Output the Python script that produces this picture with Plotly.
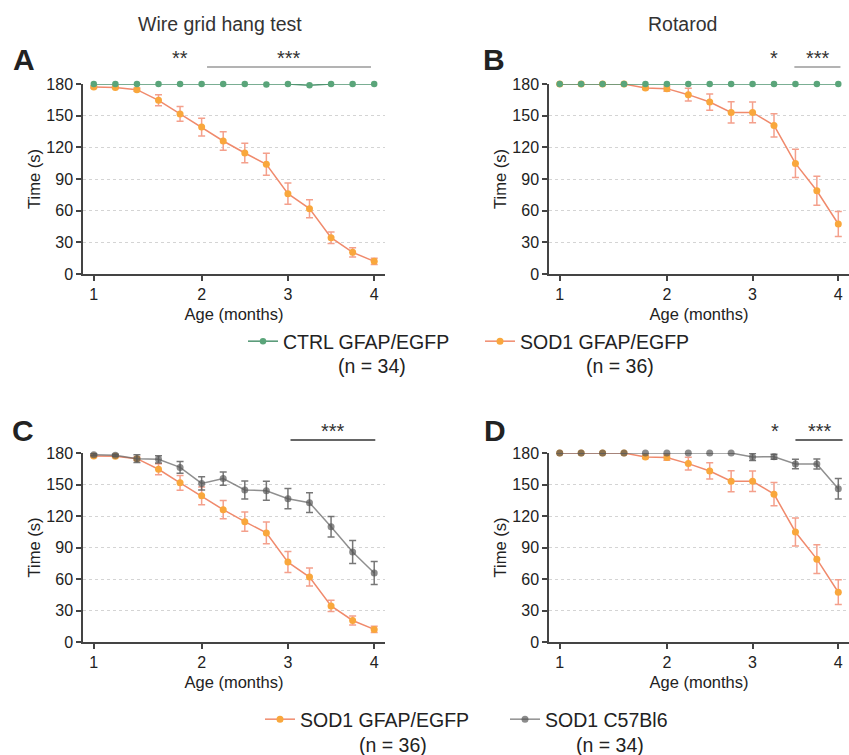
import plotly.graph_objects as go

W, H = 849, 755

# ---------------- data ----------------
age_index = list(range(14))                 # 14 weekly test sessions
month_tick_index = [0, 5, 9, 13]
month_tick_labels = ["1", "2", "3", "4"]
y_ticks = [0, 30, 60, 90, 120, 150, 180]

ctrl_wire = [180, 180, 180, 180, 180, 180, 180, 180, 179.5, 180, 178.8, 180, 180, 180]
sod1_wire = [177.1, 176.8, 174.6, 164.5, 151.6, 139.2, 126.0, 114.6, 103.9, 76.1, 61.9, 34.4, 20.5, 12.0]
sod1_wire_sem = [1, 1, 1.5, 5.2, 7.0, 8.4, 8.7, 9.2, 10.4, 10.0, 8.5, 5.4, 4.3, 3.0]

ctrl_rota = [180] * 14
sod1_rota = [180, 180, 180, 180, 176.2, 175.6, 169.9, 162.9, 153.1, 153.1, 140.8, 104.8, 78.9, 47.4]
sod1_rota_sem = [0, 0, 0, 0, 1.5, 2.5, 6.0, 7.7, 10.0, 9.8, 11.0, 13.3, 13.7, 11.8]

c57_wire = [178.4, 177.8, 174.6, 174.0, 166.3, 151.0, 155.6, 144.8, 144.1, 136.5, 132.7, 109.8, 85.7, 65.7]
c57_wire_sem = [1, 1, 3.7, 3.5, 5.5, 6.3, 6.2, 8.6, 9.0, 9.7, 9.4, 9.8, 11.0, 11.0]

c57_rota = [180, 180, 180, 180, 180, 180, 180, 180, 180, 176.2, 176.5, 169.5, 169.5, 146.0]
c57_rota_sem = [0, 0, 0, 0, 0, 0, 0, 0, 0, 3.3, 2.4, 4.6, 4.8, 9.7]

name_ctrl, n_ctrl = "CTRL GFAP/EGFP", "(n = 34)"
name_sod1, n_sod1 = "SOD1 GFAP/EGFP", "(n = 36)"
name_c57, n_c57 = "SOD1 C57Bl6", "(n = 34)"

# ---------------- styles ----------------
FONT = "Liberation Sans, Arial, Helvetica, sans-serif"
GREEN_M, GREEN_L = "#5aa57a", "#4f9470"
ORANGE_M, ORANGE_L, ORANGE_E = "#f9a73c", "#f08a6c", "#f4a08c"
GRAY_M, GRAY_L, GRAY_E = "rgba(85,85,85,0.68)", "rgba(105,105,105,0.75)", "rgba(85,85,85,0.8)"
AX = "#444444"


def px(x):
    return x / W


def py(y):
    return 1 - y / H


def series(name, y, sem, mcol, lcol, ecol, xa, ya, legend="legend", show=False, msize=7, rank=1000):
    err = None
    if sem is not None:
        err = dict(type="data", array=sem, visible=True, color=ecol, thickness=1.5, width=3.5)
    return go.Scatter(
        x=age_index, y=y, name=name, mode="lines+markers",
        line=dict(color=lcol, width=1.5),
        marker=dict(color=mcol, size=msize),
        error_y=err, xaxis=xa, yaxis=ya, cliponaxis=False,
        showlegend=show, legend=legend, legendrank=rank,
    )


fig = go.Figure()
# A
fig.add_trace(series(name_sod1, sod1_wire, sod1_wire_sem, ORANGE_M, ORANGE_L, ORANGE_E, "x", "y", "legend", True, rank=2))
fig.add_trace(series(name_ctrl, ctrl_wire, None, GREEN_M, GREEN_L, None, "x", "y", "legend", True, 6.5, rank=1))
# B
fig.add_trace(series(name_sod1, sod1_rota, sod1_rota_sem, ORANGE_M, ORANGE_L, ORANGE_E, "x2", "y2"))
fig.add_trace(series(name_ctrl, ctrl_rota, None, GREEN_M, GREEN_L, None, "x2", "y2", msize=6.5))
# C
fig.add_trace(series(name_sod1, sod1_wire, sod1_wire_sem, ORANGE_M, ORANGE_L, ORANGE_E, "x3", "y3", "legend2", True, rank=1))
fig.add_trace(series(name_c57, c57_wire, c57_wire_sem, GRAY_M, GRAY_L, GRAY_E, "x3", "y3", "legend2", True, rank=2))
# D
fig.add_trace(series(name_sod1, sod1_rota, sod1_rota_sem, ORANGE_M, ORANGE_L, ORANGE_E, "x4", "y4"))
fig.add_trace(series(name_c57, c57_rota, c57_rota_sem, GRAY_M, GRAY_L, GRAY_E, "x4", "y4"))


def xaxis(domain, anchor):
    return dict(domain=domain, anchor=anchor, range=[-0.5, 13.5],
                tickmode="array", tickvals=month_tick_index, ticktext=month_tick_labels,
                showline=True, linecolor=AX, linewidth=1.5,
                ticks="outside", ticklen=5, tickwidth=1.5, tickcolor=AX,
                showgrid=False, zeroline=False, automargin=False,
                tickfont=dict(size=16, color="#222", family=FONT),
                title=dict(text="Age (months)", font=dict(size=16.5, color="#222", family=FONT), standoff=6))


def yaxis(domain, anchor):
    return dict(domain=domain, anchor=anchor, range=[0, 180],
                tickmode="array", tickvals=y_ticks,
                showline=True, linecolor=AX, linewidth=1.5,
                ticks="outside", ticklen=5, tickwidth=1.5, tickcolor=AX,
                showgrid=True, gridcolor="#d4d4d4", griddash="dot", gridwidth=1,
                zeroline=False, automargin=False,
                tickfont=dict(size=16, color="#222", family=FONT),
                title=dict(text="Time (s)", font=dict(size=16.5, color="#222", family=FONT), standoff=2))


left_dom = [px(83), px(385)]
right_dom = [px(549), 1.0]
top_dom = [py(274), py(84)]
bot_dom = [py(642), py(453)]

annotations = [
    dict(text="Wire grid hang test", x=px(220), y=py(24), font=dict(size=19.5)),
    dict(text="Rotarod", x=px(682), y=py(24), font=dict(size=19.5)),
    dict(text="<b>A</b>", x=px(24), y=py(60), font=dict(size=30, color="#222")),
    dict(text="<b>B</b>", x=px(494), y=py(60), font=dict(size=30, color="#222")),
    dict(text="<b>C</b>", x=px(23), y=py(431), font=dict(size=30, color="#222")),
    dict(text="<b>D</b>", x=px(495), y=py(431), font=dict(size=30, color="#222")),
    # group sizes under legend entries
    dict(text=n_ctrl, x=px(372), y=py(366), font=dict(size=19.5, color="#222")),
    dict(text=n_sod1, x=px(620), y=py(366), font=dict(size=19.5, color="#222")),
    dict(text=n_sod1, x=px(393), y=py(745), font=dict(size=19.5, color="#222")),
    dict(text=n_c57, x=px(610), y=py(745), font=dict(size=19.5, color="#222")),
]
for a in annotations:
    a.update(xref="paper", yref="paper", showarrow=False, xanchor="center", yanchor="middle")
    a["font"].setdefault("color", "#333")
    a["font"]["family"] = FONT

# significance marks: (axis, text, x index, y pixel)
sig_text = [
    ("x", "**", 4.0, 58), ("x", "***", 9.07, 58),
    ("x2", "*", 10.0, 58), ("x2", "***", 12.06, 58),
    ("x3", "***", 11.1, 431),
    ("x4", "*", 10.05, 431), ("x4", "***", 12.15, 431),
]
for xa, t, xv, yp in sig_text:
    annotations.append(dict(text=t, x=xv, y=py(yp), xref=xa, yref="paper", showarrow=False,
                            xanchor="center", yanchor="middle",
                            font=dict(size=20, color="#333", family=FONT)))

sig_lines = [("x", 5.25, 12.85, 67, "#9a9a9a"), ("x2", 10.95, 13.1, 67, "#9a9a9a"),
             ("x3", 9.12, 13.05, 440, "#333333"), ("x4", 11.0, 13.2, 440, "#333333")]
shapes = [dict(type="line", xref=xa, yref="paper", x0=a, x1=b, y0=py(yp), y1=py(yp),
               line=dict(color=c, width=1.5)) for xa, a, b, yp, c in sig_lines]

legend_style = dict(orientation="h", font=dict(size=19.5, color="#222", family=FONT),
                    bgcolor="rgba(0,0,0,0)", xanchor="left", yanchor="top",
                    itemclick=False, itemdoubleclick=False)

fig.update_layout(
    width=W, height=H,
    margin=dict(l=0, r=0, t=0, b=0, autoexpand=False),
    paper_bgcolor="white", plot_bgcolor="white",
    font=dict(family=FONT, color="#222"),
    xaxis=xaxis(left_dom, "y"), yaxis=yaxis(top_dom, "x"),
    xaxis2=xaxis(right_dom, "y2"), yaxis2=yaxis(top_dom, "x2"),
    xaxis3=xaxis(left_dom, "y3"), yaxis3=yaxis(bot_dom, "x3"),
    xaxis4=xaxis(right_dom, "y4"), yaxis4=yaxis(bot_dom, "x4"),
    annotations=annotations, shapes=shapes,
    legend=dict(x=px(243), y=py(322), entrywidth=192, **legend_style),
    legend2=dict(x=px(260), y=py(700), entrywidth=200, **legend_style),
)

fig.write_html("out.html", config={"displayModeBar": False},
               post_script="document.body.style.margin='0';document.body.style.overflow='hidden';")
